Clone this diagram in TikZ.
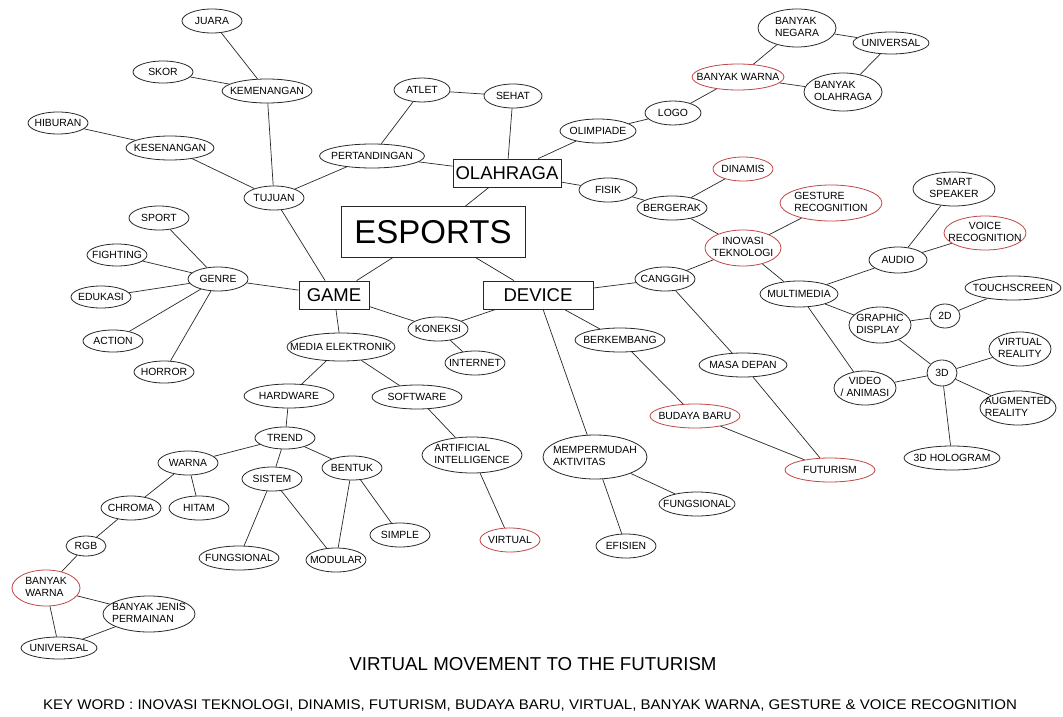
\documentclass[tikz,border=0pt]{standalone}
\usepackage{fontspec}
\setmainfont{Liberation Sans}
\newfontfamily\widefont[FakeStretch=1.075]{Liberation Sans}
\usetikzlibrary{shapes.geometric}
\definecolor{redline}{RGB}{192,70,70}
\definecolor{inkline}{RGB}{40,40,40}
\newcommand\one[1]{\makebox[0pt]{#1}}
\newcommand\twol[2]{\makebox[0pt]{\begin{tabular}{@{}l@{}}#1\\#2\end{tabular}}}
\newcommand\twoc[2]{\makebox[0pt]{\begin{tabular}{@{}c@{}}#1\\#2\end{tabular}}}
\tikzset{
  el/.style 2 args={ellipse, draw=inkline, line width=0.8pt, inner sep=0pt, inner ysep=-2pt,
     minimum width=#1, minimum height=#2, font=\fontsize{10.4}{12.6}\selectfont},
  rel/.style 2 args={el={#1}{#2}, draw=redline},
  bigbox/.style 2 args={rectangle, draw=inkline, line width=0.8pt, inner sep=0pt,
     minimum width=#1, minimum height=#2, font=\fontsize{18.5}{20}\selectfont},
  ln/.style={draw=inkline, line width=0.7pt},
}
\begin{document}
\begin{tikzpicture}[x=1pt,y=-1pt]
\useasboundingbox[fill=white] (0,0) rectangle (1063,717);

% main boxes
\node[bigbox={184}{51}, font=\fontsize{33}{36}\selectfont] (esports) at (433,232) {\one{ESPORTS}};
\node[bigbox={108}{28}] (olahraga) at (507,173) {\one{OLAHRAGA}};
\node[bigbox={70}{28}] (game) at (334,295) {\one{GAME}};
\node[bigbox={110}{28}] (device) at (538,295) {\one{DEVICE}};

% top-left cluster
\node[el={60}{24}] (juara) at (212,21) {\one{JUARA}};
\node[el={60}{22}] (skor) at (163,72) {\one{SKOR}};
\node[el={90}{24}] (kemenangan) at (267,91) {\one{KEMENANGAN}};
\node[el={60}{22}] (hiburan) at (58,123) {\one{HIBURAN}};
\node[el={88}{24}] (kesenangan) at (170,148) {\one{KESENANGAN}};
\node[el={60}{24}] (tujuan) at (274,198) {\one{TUJUAN}};
\node[el={105}{24}] (pertandingan) at (372,156) {\one{PERTANDINGAN}};
\node[el={56}{24}] (atlet) at (422,90) {\one{ATLET}};
\node[el={58}{24}] (sehat) at (513,96) {\one{SEHAT}};

% olahraga right
\node[el={76}{24}] (olimpiade) at (598,131) {\one{OLIMPIADE}};
\node[el={56}{24}] (logo) at (673,113) {\one{LOGO}};
\node[rel={92}{26}] (bwarna) at (738,77) {\one{BANYAK WARNA}};
\node[el={78}{38}] (bnegara) at (797,28) {\twol{BANYAK}{NEGARA}};
\node[el={76}{22}] (universal) at (891,43) {\one{UNIVERSAL}};
\node[el={78}{38}] (bolahraga) at (843,92) {\twol{BANYAK}{OLAHRAGA}};
\node[el={58}{24}] (fisik) at (608,190) {\one{FISIK}};
\node[el={70}{24}] (bergerak) at (672,208) {\one{BERGERAK}};
\node[rel={60}{24}] (dinamis) at (743,169) {\one{DINAMIS}};
\node[rel={102}{36}] (gesture) at (831,203) {\twol{GESTURE}{RECOGNITION}};
\node[rel={76}{36}] (inovasi) at (743,248) {\twoc{INOVASI}{TEKNOLOGI}};

% multimedia cluster
\node[el={82}{34}] (smart) at (954,189) {\twoc{SMART}{SPEAKER}};
\node[rel={82}{34}] (voice) at (985,233) {\twoc{VOICE}{RECOGNITION}};
\node[el={58}{26}] (audio) at (898,260) {\one{AUDIO}};
\node[el={78}{26}] (multimedia) at (799,294) {\one{MULTIMEDIA}};
\node[el={96}{24}] (touch) at (1013,288) {\one{TOUCHSCREEN}};
\node[el={30}{24}] (twod) at (945,316) {\one{2D}};
\node[el={62}{36}] (graphic) at (880,325) {\twol{GRAPHIC}{DISPLAY}};
\node[el={62}{34}] (vr) at (1020,349) {\twol{VIRTUAL}{REALITY}};
\node[el={30}{26}] (threed) at (942,373) {\one{3D}};
\node[el={62}{34}] (video) at (865,388) {\twoc{VIDEO}{/ ANIMASI}};
\node[el={76}{34}] (ar) at (1018,408) {\twol{AUGMENTED}{REALITY}};
\node[el={96}{24}] (holo) at (952,458) {\one{3D HOLOGRAM}};

% device cluster
\node[el={60}{24}] (canggih) at (665,279) {\one{CANGGIH}};
\node[el={88}{24}] (masa) at (743,365) {\one{MASA DEPAN}};
\node[rel={90}{24}] (futurism) at (830,470) {\one{FUTURISM}};
\node[el={90}{24}] (berkembang) at (620,340) {\one{BERKEMBANG}};
\node[rel={90}{24}] (budaya) at (695,416) {\one{BUDAYA BARU}};
\node[el={104}{44}] (mempermudah) at (595,457) {\twol{MEMPERMUDAH}{AKTIVITAS}};
\node[el={76}{24}] (fungsr) at (697,504) {\one{FUNGSIONAL}};
\node[el={60}{24}] (efisien) at (626,546) {\one{EFISIEN}};
\node[el={60}{24}] (koneksi) at (438,329) {\one{KONEKSI}};
\node[el={60}{24}] (internet) at (475,363) {\one{INTERNET}};

% game cluster
\node[el={60}{24}] (genre) at (218,279) {\one{GENRE}};
\node[el={60}{24}] (sport) at (159,218) {\one{SPORT}};
\node[el={60}{22}] (fighting) at (117,255) {\one{FIGHTING}};
\node[el={60}{22}] (edukasi) at (101,297) {\one{EDUKASI}};
\node[el={60}{22}] (action) at (113,341) {\one{ACTION}};
\node[el={60}{22}] (horror) at (164,372) {\one{HORROR}};
\node[el={108}{28}] (media) at (341,347) {\one{MEDIA ELEKTRONIK}};
\node[el={90}{24}] (hardware) at (289,396) {\one{HARDWARE}};
\node[el={90}{24}] (software) at (417,397) {\one{SOFTWARE}};
\node[el={100}{36}] (ai) at (472,455) {\twol{ARTIFICIAL}{INTELLIGENCE}};
\node[rel={60}{24}] (virtual) at (510,540) {\one{VIRTUAL}};
\node[el={60}{22}] (trend) at (285,438) {\one{TREND}};
\node[el={60}{24}] (warna) at (188,463) {\one{WARNA}};
\node[el={60}{24}] (sistem) at (272,479) {\one{SISTEM}};
\node[el={60}{24}] (bentuk) at (352,468) {\one{BENTUK}};
\node[el={60}{24}] (chroma) at (131,508) {\one{CHROMA}};
\node[el={60}{24}] (hitam) at (199,508) {\one{HITAM}};
\node[el={40}{20}] (rgb) at (86,546) {\one{RGB}};
\node[el={80}{24}] (fungsl) at (239,558) {\one{FUNGSIONAL}};
\node[el={60}{24}] (modular) at (336,560) {\one{MODULAR}};
\node[el={60}{24}] (simple) at (400,535) {\one{SIMPLE}};
\node[rel={68}{36}] (bwl) at (46,588) {\twol{BANYAK}{WARNA}};
\node[el={92}{36}] (bjenis) at (149,614) {\twol{BANYAK JENIS}{PERMAINAN}};
\node[el={76}{22}] (univl) at (59,648) {\one{UNIVERSAL}};

% captions
\node[font=\fontsize{18.7}{20}\selectfont] (title) at (533,664) {VIRTUAL MOVEMENT TO THE FUTURISM};
\node[font=\widefont\fontsize{14}{15}\selectfont] (keyword) at (530,706) {KEY WORD : INOVASI TEKNOLOGI, DINAMIS, FUTURISM, BUDAYA BARU, VIRTUAL, BANYAK WARNA, GESTURE \& VOICE RECOGNITION};

% connectors
\foreach \a/\b in {juara/kemenangan, skor/kemenangan, kemenangan/tujuan, hiburan/kesenangan,
  kesenangan/tujuan, tujuan/pertandingan, tujuan/game, pertandingan/atlet, pertandingan/olahraga,
  atlet/sehat, sehat/olahraga, olahraga/esports, olahraga/olimpiade, olimpiade/logo, logo/bwarna,
  bwarna/bnegara, bwarna/bolahraga, bnegara/universal, universal/bolahraga, olahraga/fisik,
  fisik/bergerak, bergerak/dinamis, bergerak/inovasi, inovasi/gesture, inovasi/canggih,
  inovasi/multimedia, multimedia/audio, audio/smart, audio/voice, multimedia/graphic,
  multimedia/video, graphic/twod, twod/touch, graphic/threed, threed/vr, threed/ar, threed/video,
  threed/holo, canggih/device, canggih/masa, masa/futurism, device/esports, device/koneksi,
  device/berkembang, berkembang/budaya, budaya/futurism, device/mempermudah, mempermudah/fungsr,
  mempermudah/efisien, game/esports, game/koneksi, koneksi/internet, game/genre, genre/sport,
  genre/fighting, genre/edukasi, genre/action, genre/horror, game/media, media/hardware,
  media/software, software/ai, ai/virtual, hardware/trend, trend/warna, trend/sistem, trend/bentuk,
  warna/chroma, warna/hitam, chroma/rgb, rgb/bwl, bwl/bjenis, bwl/univl, bjenis/univl,
  sistem/fungsl, sistem/modular, bentuk/modular, bentuk/simple}
  \draw[ln] (\a) -- (\b);
\end{tikzpicture}
\end{document}
